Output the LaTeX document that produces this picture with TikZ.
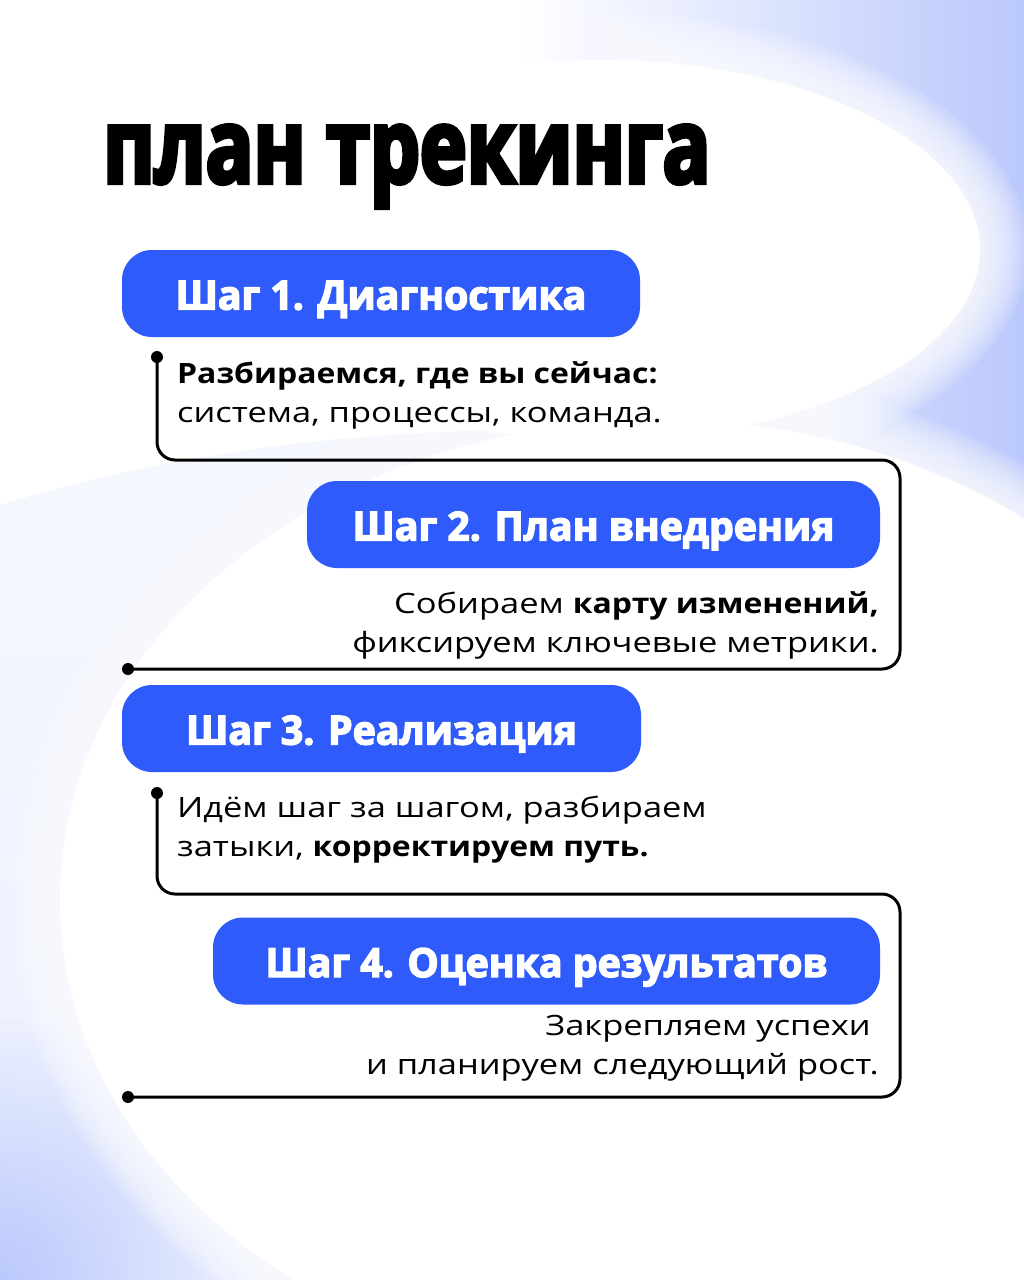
\documentclass[tikz,border=0pt]{standalone}
\usepackage{fontspec}
\setmainfont{Open Sans}[FakeStretch=1.23, BoldFeatures={FakeStretch=1.14}]
\newfontfamily\titlefont{Open Sans}[FakeBold=4, FakeStretch=0.76]
\newfontfamily\pillfont{Open Sans}[FakeBold=3.5, FakeStretch=0.98]
\usetikzlibrary{positioning}

\definecolor{pillblue}{RGB}{46,91,250}
\definecolor{lavbg}{RGB}{236,240,254}
\definecolor{cornerblue}{RGB}{186,200,252}

\begin{document}
\begin{tikzpicture}[
    x=1pt, y=-1pt,
    pill/.style={fill=pillblue, rounded corners=30pt, minimum height=87pt,
        inner sep=0pt, text=white, text height=32pt, text depth=0pt,
        font=\pillfont\bfseries\fontsize{40}{40}\selectfont},
    note/.style={inner sep=0pt, font=\fontsize{28}{39}\selectfont},
    track/.style={line width=3pt, rounded corners=18pt},
    dot/.style={circle, fill=black, inner sep=0pt, minimum size=12pt}
]
    \useasboundingbox (0,0) rectangle (1024,1280);

    % background blobs
    \fill[white] (0,0) rectangle (1024,1280);
    \shade[top color=lavbg!50, bottom color=lavbg]
        (0,505) .. controls (150,460) and (300,435) .. (500,430) -- (1024,430)
        -- (1024,1280) -- (0,1280) -- cycle;
    \shade[left color=white, right color=cornerblue]
        (520,0) -- (1024,0) -- (1024,600) .. controls (900,480) and (700,435) .. (520,430) -- cycle;
    \shade[inner color=cornerblue, outer color=lavbg] (0,1280) circle (260);
    \foreach \k in {48,44,...,4} {
        \fill[white, opacity=0.12] (600,250) ellipse [x radius=380+\k, y radius=190+\k];
        \fill[white, opacity=0.12] (660,900) ellipse [x radius=600+\k, y radius=480+\k];
    }
    \fill[white] (600,250) ellipse [x radius=380, y radius=190];
    \fill[white] (660,900) ellipse [x radius=600, y radius=480];

    % title
    \node[anchor=base west, inner sep=0pt,
          font=\titlefont\bfseries\fontsize{104}{104}\selectfont] (title) at (103,183) {план трекинга};

    % step pills
    \foreach \n/\cx/\cy/\w/\lbl in {1/381/293.5/518/{Шаг 1. Диагностика},
                                 2/593.5/524.5/573/{Шаг 2. План внедрения},
                                 3/381.5/728.5/519/{Шаг 3. Реализация},
                                 4/546.5/961/667/{Шаг 4. Оценка результатов}} {
        \node[pill, minimum width=\w pt] (step\n) at (\cx,\cy) {\lbl};
    }

    % notes under the pills
    \node[note, anchor=north west, align=left] (txt1) at (177,361)
        {\textbf{Разбираемся, где вы сейчас:}\\система, процессы, команда.};
    \node[note, anchor=north east, align=right] (txt2) at (879,591)
        {Собираем \textbf{карту изменений,}\\фиксируем ключевые метрики.};
    \node[note, anchor=north west, align=left] (txt3) at (177,796)
        {Идём шаг за шагом, разбираем\\затыки, \textbf{корректируем путь.}};
    \node[note, anchor=north east, align=right] (txt4) at (879,1015)
        {Закрепляем успехи\kern8pt\\и планируем следующий рост.};

    % track dots
    \node[dot] (d1s) at (157,357) {};
    \node[dot] (d1e) at (128,669) {};
    \node[dot] (d2s) at (157,793) {};
    \node[dot] (d2e) at (128,1097) {};
    \coordinate (r1) at (900,460);
    \coordinate (r2) at (900,894);

    % track lines
    \draw[track] (d1s.center) |- (r1) |- (d1e.center);
    \draw[track] (d2s.center) |- (r2) |- (d2e.center);

\end{tikzpicture}
\end{document}
